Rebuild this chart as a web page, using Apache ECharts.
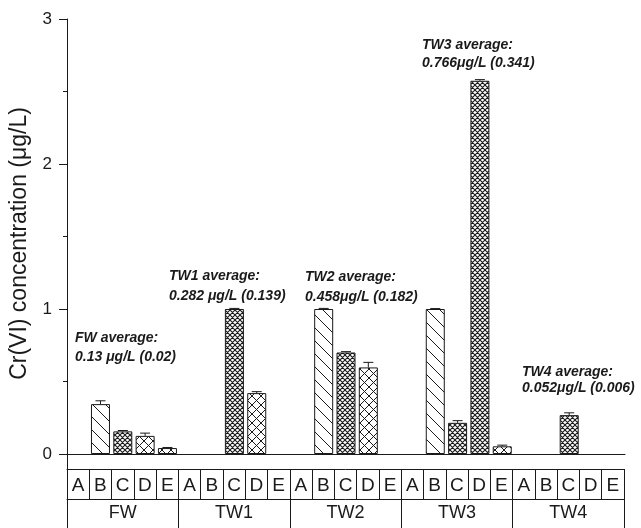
<!DOCTYPE html>
<html>
<head>
<meta charset="utf-8">
<script src="https://cdn.jsdelivr.net/npm/echarts@6/dist/echarts.min.js"></script>
<style>
  html, body { margin: 0; padding: 0; background: #fff; }
  #chart { width: 641px; height: 528px; }
</style>
</head>
<body>
<div id="chart"></div>
<script>
// Sampling sites and sub-samples
const groups = ['FW', 'TW1', 'TW2', 'TW3', 'TW4'];
const letters = ['A', 'B', 'C', 'D', 'E'];

// Mean Cr(VI) per sub-sample (μg/L); null = no bar
const fwMeans  = [null, 0.344, 0.156, 0.125, 0.041];
const tw1Means = [null, null, 1.0, 0.42, null];
const tw2Means = [null, 1.0, 0.70, 0.597, null];
const tw3Means = [null, 1.0, 0.215, 2.574, 0.053];
const tw4Means = [null, null, 0.268, null, null];

// Standard deviations (upper error bars)
const fwErrs  = [null, 0.023, 0.006, 0.019, 0.004];
const tw1Errs = [null, null, 0.004, 0.010, null];
const tw2Errs = [null, 0.004, 0.006, 0.035, null];
const tw3Errs = [null, 0.003, 0.015, 0.008, 0.008];
const tw4Errs = [null, null, 0.016, null, null];

// Fill hatch for each bar
const fwHatch  = [null, 'diag', 'dense', 'loose', 'loose'];
const tw1Hatch = [null, null, 'dense', 'loose', null];
const tw2Hatch = [null, 'diag', 'dense', 'loose', null];
const tw3Hatch = [null, 'diag', 'dense', 'dense', 'loose'];
const tw4Hatch = [null, null, 'dense', null, null];

// Group averages written above the bars
const avgTitles = ['FW average:', 'TW1 average:', 'TW2 average:', 'TW3 average:', 'TW4 average:'];
const avgValues = ['0.13 μg/L (0.02)', '0.282 μg/L (0.139)', '0.458μg/L (0.182)', '0.766μg/L (0.341)', '0.052μg/L (0.006)'];

const yTicks = [0, 1, 2, 3];

const FONT = '"Liberation Sans", Arial, sans-serif';
const INK = '#1a1a1a';

const allMeans = [fwMeans, tw1Means, tw2Means, tw3Means, tw4Means];
const allErrs = [fwErrs, tw1Errs, tw2Errs, tw3Errs, tw4Errs];
const allHatch = [fwHatch, tw1Hatch, tw2Hatch, tw3Hatch, tw4Hatch];

// one category per table cell
const cells = [];
groups.forEach(g => letters.forEach(l => cells.push(g + '-' + l)));

function makeHatch(kind) {
  const s = kind === 'diag' ? 13 : (kind === 'dense' ? 5 : 9);
  const c = document.createElement('canvas');
  c.width = s; c.height = s;
  const ctx = c.getContext('2d');
  ctx.fillStyle = '#fff';
  ctx.fillRect(0, 0, s, s);
  ctx.strokeStyle = INK;
  ctx.lineWidth = kind === 'dense' ? 1.1 : 1;
  ctx.beginPath();
  for (let k = -1; k <= 1; k++) {
    ctx.moveTo(k * s, 0); ctx.lineTo(k * s + s, s);
    if (kind !== 'diag') { ctx.moveTo(k * s + s, 0); ctx.lineTo(k * s, s); }
  }
  ctx.stroke();
  return { image: c, repeat: 'repeat' };
}

const hatchKinds = ['diag', 'dense', 'loose'];
const barSeries = hatchKinds.map(kind => {
  const data = [];
  allMeans.forEach((means, gi) => means.forEach((v, li) => {
    data.push(allHatch[gi][li] === kind && v != null ? v : '-');
  }));
  return {
    type: 'bar',
    xAxisIndex: 0, yAxisIndex: 0,
    barWidth: 19,
    barGap: '-100%',
    data: data,
    itemStyle: { color: makeHatch(kind), borderColor: INK, borderWidth: 1 },
    silent: true,
    z: 2
  };
});

const errData = [];
allMeans.forEach((means, gi) => means.forEach((v, li) => {
  if (v != null) errData.push([gi * letters.length + li, v, allErrs[gi][li]]);
}));

const errSeries = {
  type: 'custom',
  xAxisIndex: 0, yAxisIndex: 0,
  data: errData,
  z: 3,
  silent: true,
  renderItem: function (params, api) {
    const x = api.value(0), m = api.value(1), e = api.value(2);
    const base = api.coord([x, m]);
    const top = api.coord([x, m + e]);
    const st = { stroke: INK, lineWidth: 1 };
    return {
      type: 'group',
      children: [
        { type: 'line', shape: { x1: base[0], y1: base[1], x2: top[0], y2: top[1] }, style: st },
        { type: 'line', shape: { x1: top[0] - 5, y1: top[1], x2: top[0] + 5, y2: top[1] }, style: st }
      ]
    };
  }
};

// annotation anchor points (left x, centre y of first and second line)
const avgPos = [[75, 338, 357], [169, 276, 296], [305, 277, 297], [422, 45, 63], [522, 372, 388]];
const annot = [];
avgTitles.forEach((t, i) => {
  const p = avgPos[i];
  [[t, p[1]], [avgValues[i], p[2]]].forEach(([txt, y]) => {
    annot.push({
      type: 'text', x: p[0], y: y,
      style: { text: txt, fill: INK, font: 'italic bold 14px ' + FONT, verticalAlign: 'middle' },
      silent: true
    });
  });
});

const chart = echarts.init(document.getElementById('chart'), null, { renderer: 'canvas' });
chart.setOption({
  animation: false,
  backgroundColor: '#fff',
  grid: [
    { left: 67, right: 16, top: 19, bottom: 74, containLabel: false },
    { left: 67, right: 17, top: 454, height: 45, containLabel: false },
    { left: 67, right: 17, top: 499, height: 40, containLabel: false }
  ],
  xAxis: [
    {
      gridIndex: 0, type: 'category', data: cells,
      axisLine: { show: true, onZero: true, lineStyle: { color: INK, width: 1 } },
      axisTick: { show: false }, axisLabel: { show: false }, splitLine: { show: false }
    },
    {
      gridIndex: 1, type: 'category', data: cells, position: 'top', offset: -15,
      axisLine: { show: true, onZero: false, lineStyle: { color: INK, width: 1 } },
      axisTick: { show: true, inside: true, length: 30, interval: 0, lineStyle: { color: INK } },
      axisLabel: {
        show: true, inside: true, interval: 0, margin: 7,
        formatter: v => v.split('-')[1],
        fontFamily: FONT, fontSize: 19, color: INK
      },
      splitLine: { show: false }
    },
    {
      gridIndex: 2, type: 'category', data: groups, position: 'top',
      axisLine: { show: true, onZero: false, lineStyle: { color: INK, width: 1 } },
      axisTick: { show: true, inside: true, length: 40, interval: 0, lineStyle: { color: INK } },
      axisLabel: { show: true, inside: true, interval: 0, margin: 5, fontFamily: FONT, fontSize: 18, color: INK },
      splitLine: { show: false }
    }
  ],
  yAxis: [
    {
      gridIndex: 0, type: 'value', min: yTicks[0], max: yTicks[yTicks.length - 1], interval: 1,
      name: 'Cr(VI) concentration (μg/L)', nameLocation: 'middle', nameGap: 33, nameRotate: 90,
      nameTextStyle: { fontFamily: FONT, fontSize: 23, color: INK, padding: [0, 14, 0, 0] },
      axisLine: { show: true, lineStyle: { color: INK, width: 1 } },
      axisTick: { show: true, length: 8, lineStyle: { color: INK } },
      minorTick: { show: true, splitNumber: 2, length: 4, lineStyle: { color: INK } },
      axisLabel: { fontFamily: FONT, fontSize: 17, color: INK, margin: 15 },
      splitLine: { show: false }
    },
    {
      gridIndex: 1, type: 'value', min: 0, max: 1,
      axisLine: { show: true, onZero: false, lineStyle: { color: INK, width: 1 } },
      axisTick: { show: false }, axisLabel: { show: false }, splitLine: { show: false }
    },
    {
      gridIndex: 2, type: 'value', show: false
    }
  ],
  series: barSeries.concat([errSeries]),
  graphic: annot
});
</script>
</body>
</html>
